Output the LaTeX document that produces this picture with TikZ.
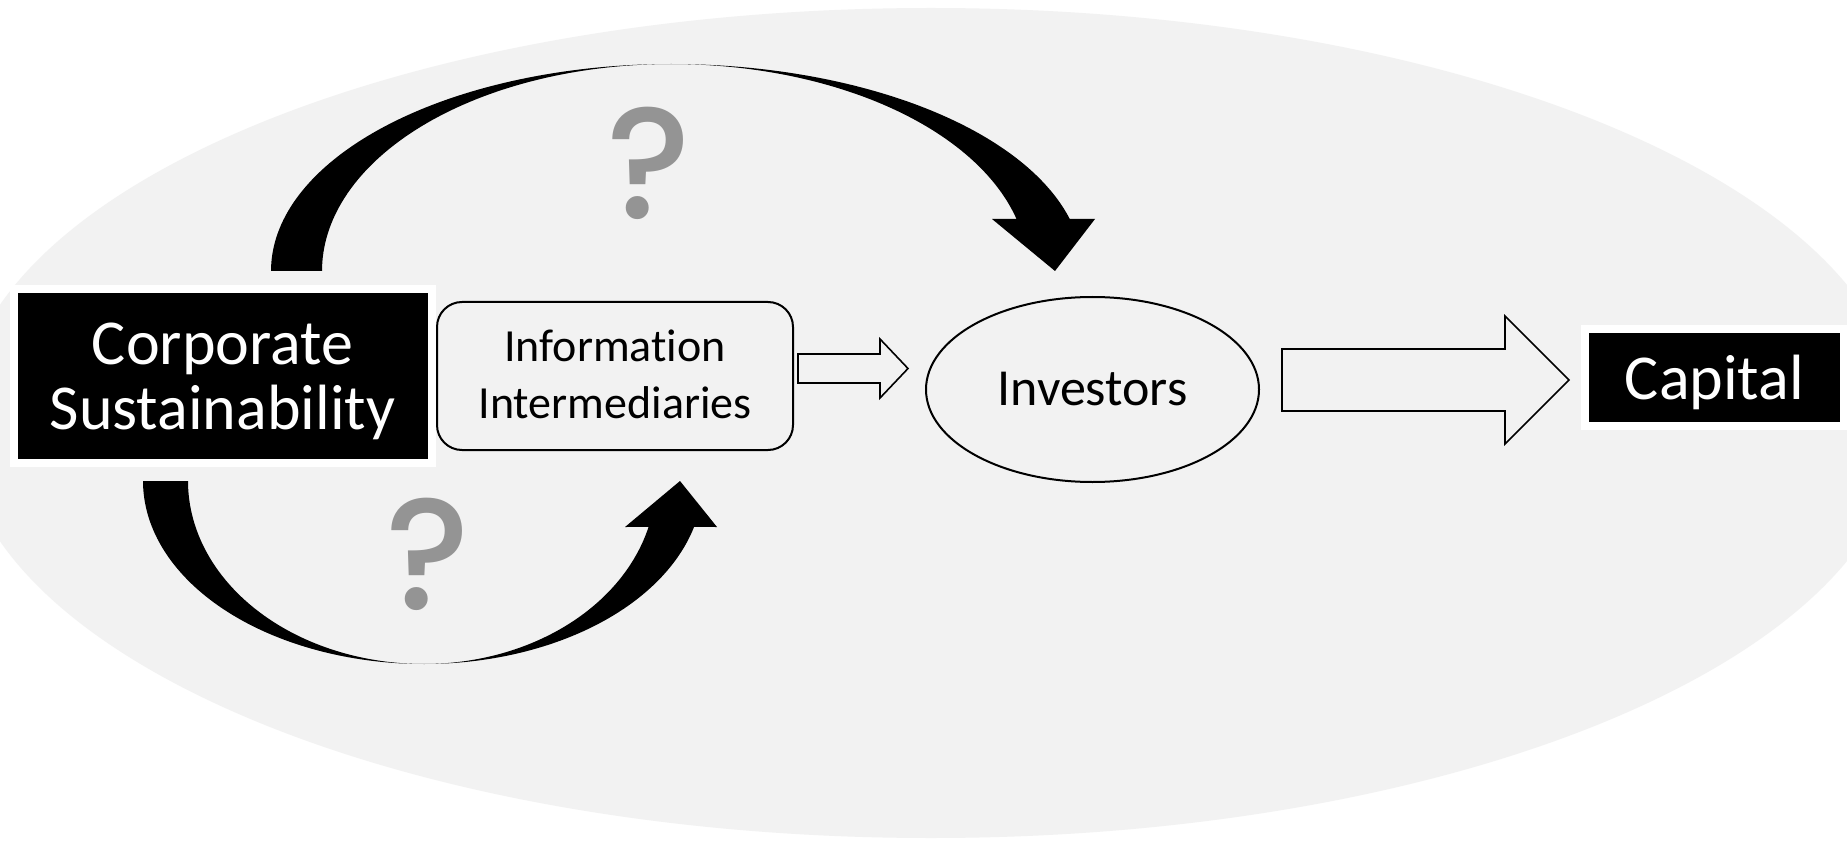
\documentclass[tikz,border=0pt]{standalone}
\usepackage{fontspec}
\setmainfont{Carlito}[Ligatures={NoCommon}]
\newfontfamily\qfont{Poppins}[UprightFont={* Medium}]
\usetikzlibrary{shadows,shapes.geometric}
\definecolor{bggray}{RGB}{242,242,242}
\definecolor{qgray}{RGB}{148,148,148}
\tikzset{
  blackbox/.style={rectangle, fill=black, draw=white, line width=8pt, inner sep=0pt,
    drop shadow={shadow xshift=2pt, shadow yshift=-4pt, opacity=0.35}},
  bigtext/.style={text=white, align=center, inner sep=0pt, font=\fontsize{64}{65}\selectfont},
  roundbox/.style={rectangle, rounded corners=25pt, draw=black, line width=2pt, fill=bggray, inner sep=0pt},
  oval/.style={ellipse, draw=black, line width=2pt, fill=bggray, inner sep=0pt},
  midtext/.style={text=black, align=center, inner sep=0pt, font=\fontsize{46}{57}\selectfont},
  blockarrow/.style={draw=black, line width=1.6pt, fill=bggray, line join=miter},
  curvearrow/.style={fill=black},
  qmark/.style={text=qgray, inner sep=0pt, anchor=base, font=\qfont\fontsize{158}{158}\selectfont}
}
\begin{document}
\begin{tikzpicture}[x=1pt,y=-1pt]
\useasboundingbox (0,0) rectangle (1847,842);
\fill[white] (0,0) rectangle (1847,842);
\clip (0,0) rectangle (1847,842);
% background ellipse
\fill[bggray] (931,423) ellipse [x radius=971, y radius=415];

% nodes
\node[blackbox, minimum width=418pt, minimum height=174pt] (cs) at (222.5,376) {};
\node[bigtext] (cstext) at (222.5,381) {Corporate\\Sustainability};
\node[roundbox, minimum width=356pt, minimum height=148pt] (ii) at (615,376) {};
\node[midtext] (iitext) at (615,374) {Information\\Intermediaries};
\node[oval, minimum width=333pt, minimum height=185pt, font=\fontsize{52}{60}\selectfont] (inv) at (1092.5,389.5) {Investors};
\node[blackbox, minimum width=259pt, minimum height=97pt, text=white, text depth=0pt,
      font=\fontsize{64}{65}\selectfont] (cap) at (1714.5,377.5) {Capital};

% block arrows
\draw[blockarrow] (798,354) -- (880,354) -- (880,339) -- (908,368.5) -- (880,398) -- (880,383) -- (798,383) -- cycle;
\draw[blockarrow] (1282,349) -- (1505,349) -- (1505,316) -- (1569,380) -- (1505,444) -- (1505,411) -- (1282,411) -- cycle;

% top curved arrow (Corporate Sustainability -> Investors)
\fill[curvearrow] plot[domain=180:90,samples=70] ({671+400*cos(\x)},{271-207*sin(\x)})
  -- plot[domain=90:14.55,samples=70] ({671+412*cos(\x)},{271-207*sin(\x)})
  -- (1095,219) -- (1055,271) -- (992,219)
  -- plot[domain=14.55:90,samples=70] ({671+357*cos(\x)},{271-207*sin(\x)})
  -- plot[domain=90:180,samples=70] ({671+349*cos(\x)},{271-207*sin(\x)})
  -- cycle;

% bottom curved arrow (Corporate Sustainability -> Information Intermediaries)
\fill[curvearrow] plot[domain=180:270,samples=70] ({424+281*cos(\x)},{481-183*sin(\x)})
  -- plot[domain=270:345.45,samples=70] ({424+279*cos(\x)},{481-183*sin(\x)})
  -- (717,527) -- (680,481) -- (625,527)
  -- plot[domain=345.45:270,samples=70] ({424+232*cos(\x)},{481-183*sin(\x)})
  -- plot[domain=270:180,samples=70] ({424+236*cos(\x)},{481-183*sin(\x)})
  -- cycle;

% question marks
\node[qmark] (q1) at (648.5,219) {?};
\node[qmark] (q2) at (428,609) {?};
\end{tikzpicture}
\end{document}
